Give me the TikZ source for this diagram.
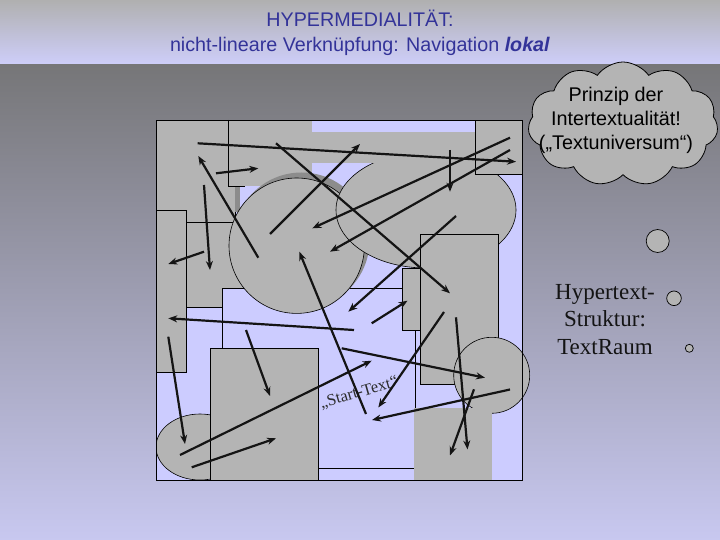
\documentclass[tikz,border=0pt]{standalone}
\usepackage{fontspec}
\setmainfont{Liberation Serif}
\newfontfamily\arialf{Liberation Sans}
\usetikzlibrary{arrows.meta,shapes.symbols}
\definecolor{titleblue}{RGB}{51,51,153}
\definecolor{shapegray}{RGB}{180,180,180}
\definecolor{lav}{RGB}{204,204,255}
\definecolor{shadowgray}{RGB}{140,140,140}
\begin{document}
\begin{tikzpicture}[x=1pt,y=-1pt,
  blob/.style={fill=shapegray,draw=black,line width=0.6pt},
  flatgray/.style={fill=shapegray},
  link/.style={line width=2.2pt,draw=black!92,-{Stealth[length=9pt,width=7pt]}},
  bubble/.style={fill=shapegray,draw=black,line width=0.7pt}]
\useasboundingbox (0,0) rectangle (720,540);
% background
\shade[top color={rgb,255:red,176;green,176;blue,176},bottom color={rgb,255:red,206;green,206;blue,250}] (0,0) rectangle (720,65);
\shade[top color={rgb,255:red,118;green,118;blue,120},bottom color={rgb,255:red,200;green,200;blue,240}] (0,65) rectangle (720,540);
% title
\node[font=\arialf\fontsize{19.7}{25}\selectfont,text=titleblue,align=center] (title) at (360,33)
  {HYPERMEDIALITÄT:\\nicht-lineare Verknüpfung: Navigation \textbf{\textit{lokal}}};
% frame
\fill[lav] (156,120) rectangle (522.7,480);
% shapes
\path[blob] (156,120) rectangle (235,222);
\path[blob] (186,222) rectangle (245,307);
\path[blob] (156,210) rectangle (186,372);
\path[flatgray] (228.3,120) rectangle (312.3,186);
\path[fill=lav,draw=black,line width=0.6pt] (222.3,288.3) rectangle (415,468.3);
\fill[shadowgray] (234.5,186) rectangle (240,212);
\fill[shadowgray] (301.5,240.5) circle[radius=68pt];
\path[blob] (296.7,245.7) circle[radius=67.7pt];
\path[blob] (426,210) ellipse[x radius=90pt,y radius=58pt];
\path[flatgray] (229,131.7) rectangle (475,162.7);
\draw[line width=0.6pt] (228.3,120) -- (228.3,186) -- (245,186);
\path[blob] (475,120) rectangle (522.7,174);
\path[blob] (402.3,268.3) rectangle (420,330);
\path[blob] (420,234.3) rectangle (498.3,384.3);
\path[blob] (491.7,375.3) circle[radius=38pt];
\path[flatgray] (414.3,408) rectangle (491.7,480);
\begin{scope}
\clip (156,120) rectangle (522.7,480);
\path[blob] (200,447) ellipse[x radius=44pt,y radius=33pt];
\end{scope}
\path[blob] (210.3,348.3) rectangle (318.3,480);
\draw[line width=0.8pt] (156,120) rectangle (522.7,480);
% start text
\node[font=\fontsize{16.5}{18}\selectfont,text={rgb,255:red,45;green,45;blue,45},rotate=16] (start) at (359,393) {„Start-Text“};
% arrows
\coordinate (s1) at (197.7,143.3); \coordinate (e1) at (516,161.7);
\coordinate (s2) at (276,143.3);   \coordinate (e2) at (450,293.3);
\coordinate (s3) at (270,234);     \coordinate (e3) at (360,144);
\coordinate (s4) at (258.3,257.7); \coordinate (e4) at (198.3,156);
\coordinate (s5) at (216,173.3);   \coordinate (e5) at (258.3,168.3);
\coordinate (s6) at (204,185);     \coordinate (e6) at (210,270);
\coordinate (s7) at (204,251.7);   \coordinate (e7) at (168.3,264);
\coordinate (s8) at (510,137.7);   \coordinate (e8) at (312.3,228.3);
\coordinate (s9) at (510,150);     \coordinate (e9) at (330,251.7);
\coordinate (s10) at (450,150);    \coordinate (e10) at (450,191.7);
\coordinate (s11) at (456,216);    \coordinate (e11) at (348.3,311.7);
\coordinate (s12) at (366,414);    \coordinate (e12) at (299.3,251.7);
\coordinate (s13) at (354,330);    \coordinate (e13) at (168.3,318.3);
\coordinate (s14) at (371.7,323.3);\coordinate (e14) at (407.5,300.7);
\coordinate (s15) at (246,330);    \coordinate (e15) at (270,396);
\coordinate (s16) at (168.3,336.7);\coordinate (e16) at (185,444);
\coordinate (s17) at (180,455);    \coordinate (e17) at (371.7,360.7);
\coordinate (s18) at (191.7,467.3);\coordinate (e18) at (276,438.3);
\coordinate (s19) at (341.7,348.3);\coordinate (e19) at (485,377.7);
\coordinate (s20) at (444,312);    \coordinate (e20) at (378.3,407.5);
\coordinate (s21) at (510,389.5);  \coordinate (e21) at (372,420);
\coordinate (s22) at (456,317.3);  \coordinate (e22) at (467.5,449.5);
\coordinate (s23) at (474,389.3);  \coordinate (e23) at (450,455.5);
\foreach \i in {1,...,23} {\draw[link] (s\i) -- (e\i);}
% cloud
\node[cloud,draw=black,line width=0.8pt,fill=shapegray,cloud puffs=11,cloud puff arc=110,aspect=1.5,
  minimum width=190pt,minimum height=124pt,inner sep=0pt] (cloud) at (623,124) {};
\node[font=\arialf\fontsize{19.8}{24}\selectfont,text=black,align=center] (cloudtext) at (616,120)
  {Prinzip der\\Intertextualität!\\(„Textuniversum“)};
\path[bubble] (657.7,241) circle[radius=11.5pt];
\path[bubble] (674,298.3) circle[radius=7.3pt];
\path[bubble] (689.3,348.3) circle[radius=4pt];
\node[font=\fontsize{23}{27.5}\selectfont,text={rgb,255:red,20;green,20;blue,20},align=center] (hyper) at (605,319.5)
  {Hypertext-\\Struktur:\\TextRaum};
\end{tikzpicture}
\end{document}
